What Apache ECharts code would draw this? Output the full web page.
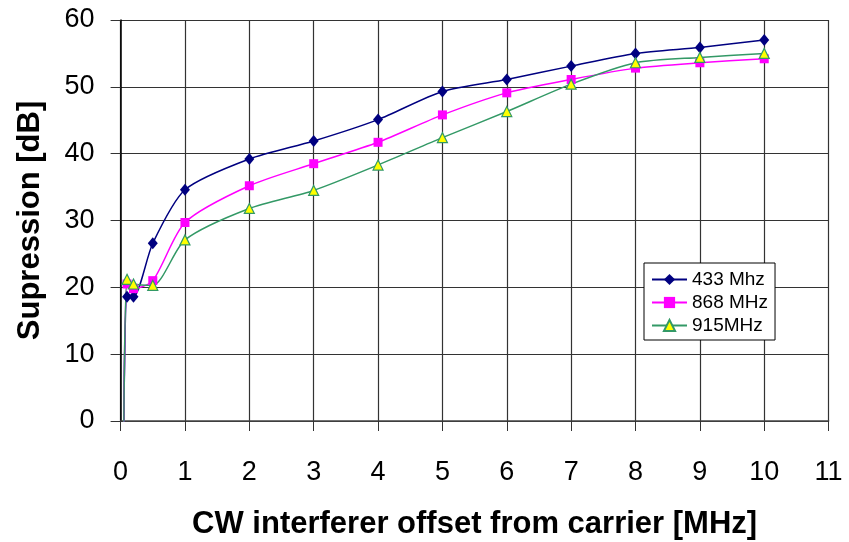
<!DOCTYPE html>
<html>
<head>
<meta charset="utf-8">
<script src="https://cdn.jsdelivr.net/npm/echarts@6/dist/echarts.min.js"></script>
<style>
html,body{margin:0;padding:0;background:#fff;}
#chart{width:849px;height:542px;}
</style>
</head>
<body>
<div id="chart"></div>
<script>
const xValues = [0.05, 0.1, 0.2, 0.5, 1, 2, 3, 4, 5, 6, 7, 8, 9, 10];
const s433 = [-1, 18.6, 18.6, 26.6, 34.6, 39.2, 41.9, 45.1, 49.3, 51.1, 53.1, 55.0, 55.9, 57.0];
const s868 = [-1, 20.5, 19.8, 21.0, 29.7, 35.2, 38.5, 41.7, 45.8, 49.1, 51.1, 52.8, 53.6, 54.2];
const s915 = [-1, 21.2, 20.5, 20.3, 27.1, 31.8, 34.5, 38.3, 42.4, 46.3, 50.4, 53.6, 54.4, 55.0];
const seriesNames = ['433 Mhz', '868 MHz', '915MHz'];

const FONT = 'Liberation Sans, Arial, sans-serif';
function pairs(ys){ return xValues.map((x,i)=>[x, ys[i]]); }

const chart = echarts.init(document.getElementById('chart'), null, {renderer:'canvas'});
chart.setOption({
  animation:false,
  backgroundColor:'#fff',
  grid:{left:120.6, right:20.4, top:20, bottom:121, containLabel:false, outerBoundsMode:'none'},
  legend:{
    left:644, top:263, orient:'vertical',
    backgroundColor:'#fff', borderColor:'#000', borderWidth:1, borderRadius:0,
    padding:[7,7,5,7], itemWidth:35, itemHeight:14, itemGap:4,
    textStyle:{fontFamily:FONT, fontSize:19, color:'#000'},
    data:seriesNames
  },
  xAxis:{
    type:'value', min:0, max:11, interval:1,
    name:'CW interferer offset from carrier [MHz]', nameLocation:'middle', nameGap:88,
    nameTextStyle:{fontFamily:FONT, fontSize:31, fontWeight:'bold', color:'#000'},
    axisLine:{show:true, onZero:false, lineStyle:{color:'#444', width:1.5}},
    axisTick:{show:true, inside:false, length:10, lineStyle:{color:'#333'}},
    axisLabel:{fontFamily:FONT, fontSize:27, color:'#000', margin:38},
    splitLine:{show:true, lineStyle:{color:'#333', width:1.2}}
  },
  yAxis:{
    type:'value', min:0, max:60, interval:10,
    name:'Supression [dB]', nameLocation:'middle', nameRotate:90, nameGap:75,
    nameTextStyle:{fontFamily:FONT, fontSize:31, fontWeight:'bold', color:'#000'},
    axisLine:{show:true, onZero:false, lineStyle:{color:'#000', width:1.5}},
    axisTick:{show:true, inside:false, length:10, lineStyle:{color:'#333'}},
    axisLabel:{fontFamily:FONT, fontSize:27, color:'#000', margin:26},
    splitLine:{show:true, lineStyle:{color:'#333', width:1.2}}
  },
  series:[
    {name:seriesNames[0], type:'line', data:pairs(s433), smooth:0.25, clip:true,
     symbol:'diamond', symbolSize:[10,12], showAllSymbol:true,
     lineStyle:{color:'#000080', width:1.5}, itemStyle:{color:'#000080'}},
    {name:seriesNames[1], type:'line', data:pairs(s868), smooth:0.25, clip:true,
     symbol:'rect', symbolSize:9, showAllSymbol:true,
     lineStyle:{color:'#FF00FF', width:1.5}, itemStyle:{color:'#FF00FF'}},
    {name:seriesNames[2], type:'line', data:pairs(s915), smooth:0.25, clip:true,
     symbol:'triangle', symbolSize:[10,10], showAllSymbol:true,
     lineStyle:{color:'#339966', width:1.5},
     itemStyle:{color:'#FFFF00', borderColor:'#339966', borderWidth:1.2}}
  ]
});
</script>
</body>
</html>
